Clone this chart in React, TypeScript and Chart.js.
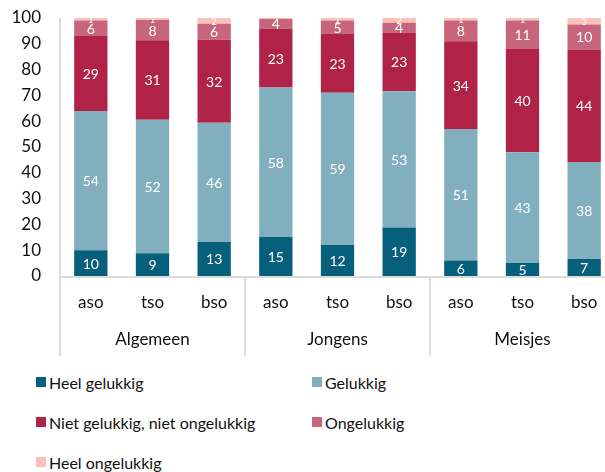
import React, { useEffect, useRef } from "react";
import { Chart, registerables } from "chart.js";

Chart.register(...registerables);

const categories = ["aso", "tso", "bso", "aso", "tso", "bso", "aso", "tso", "bso"];
const groups = ["Algemeen", "Jongens", "Meisjes"];
const seriesNames = [
  "Heel gelukkig",
  "Gelukkig",
  "Niet gelukkig, niet ongelukkig",
  "Ongelukkig",
  "Heel ongelukkig",
];
const heelGelukkig = [10, 8.8, 13.2, 15.1, 12, 18.8, 6, 5, 6.6];
const gelukkig = [54, 51.8, 46.2, 58, 59, 52.8, 51, 43, 37.6];
const nietNiet = [29, 30.8, 32.2, 22.8, 23, 22.8, 34, 40, 43.6];
const ongelukkig = [6, 7.8, 6.2, 3.7, 5, 3.8, 8, 11, 9.7];
const heelOngelukkig = [1, 0.8, 2.2, 0.4, 1, 1.8, 1, 1, 2.5];
const seriesColors = ["#065f7b", "#82afbe", "#b02247", "#c6657c", "#fbc0b7"];
const yTicks = [0, 10, 20, 30, 40, 50, 60, 70, 80, 90, 100];

const FONT = "Lato, 'Noto Sans', sans-serif";

export default function App() {
  const ref = useRef<HTMLCanvasElement | null>(null);

  useEffect(() => {
    if (!ref.current) return;
    const values = [heelGelukkig, gelukkig, nietNiet, ongelukkig, heelOngelukkig];

    const overlay = {
      id: "overlay",
      afterDatasetsDraw(chart: any) {
        const ctx = chart.ctx;
        ctx.save();
        ctx.textAlign = "center";
        ctx.textBaseline = "middle";
        chart.data.datasets.forEach((ds: any, di: number) => {
          const meta = chart.getDatasetMeta(di);
          meta.data.forEach((bar: any, i: number) => {
            const v = Math.round(ds.data[i]);
            if (!v) return;
            const cy = (bar.y + bar.base) / 2;
            ctx.fillStyle = "#ffffff";
            ctx.font = di === 4 ? `9px ${FONT}` : `14px ${FONT}`;
            ctx.fillText(String(v), bar.x, cy + 1);
          });
        });
        ctx.restore();
      },
      afterDraw(chart: any) {
        const ctx = chart.ctx;
        const area = chart.chartArea;
        const xs = chart.scales.x;
        const step = (area.right - area.left) / categories.length;
        const bottomLine = area.bottom + 80;
        ctx.save();
        ctx.strokeStyle = "#dcdcdc";
        ctx.lineWidth = 2;
        ctx.beginPath();
        ctx.moveTo(area.left, area.bottom + 1);
        ctx.lineTo(area.right, area.bottom + 1);
        ctx.stroke();
        ctx.beginPath();
        ctx.moveTo(area.left, area.top);
        ctx.lineTo(area.left, bottomLine);
        ctx.stroke();
        for (let g = 1; g <= groups.length; g++) {
          const x = Math.round(area.left + g * 3 * step);
          ctx.beginPath();
          ctx.moveTo(x, area.bottom);
          ctx.lineTo(x, bottomLine);
          ctx.stroke();
        }
        ctx.fillStyle = "#111111";
        ctx.font = `17px ${FONT}`;
        ctx.textAlign = "center";
        ctx.textBaseline = "middle";
        groups.forEach((g, gi) => {
          const cx = xs.getPixelForValue(gi * 3 + 1);
          ctx.fillText(g, cx, area.bottom + 64);
        });
        ctx.restore();
      },
    };

    const chart = new Chart(ref.current, {
      type: "bar",
      data: {
        labels: categories,
        datasets: values.map((d, i) => ({
          label: seriesNames[i],
          data: d,
          backgroundColor: seriesColors[i],
          borderWidth: 0,
          barPercentage: 0.54,
          categoryPercentage: 1,
        })),
      },
      options: {
        responsive: false,
        animation: false,
        layout: { padding: { top: 18, right: 0, bottom: 0, left: 0 } },
        plugins: { legend: { display: false }, tooltip: { enabled: false } },
        scales: {
          x: {
            stacked: true,
            grid: { display: false, drawTicks: false },
            border: { display: false },
            ticks: {
              color: "#111111",
              font: { family: FONT, size: 17 },
              padding: 16,
              autoSkip: false,
              maxRotation: 0,
            },
            afterFit(scale: any) {
              scale.height = 90;
              scale.paddingLeft = 0;
              scale.paddingRight = 0;
            },
          },
          y: {
            stacked: true,
            min: 0,
            max: 100,
            afterBuildTicks(scale: any) {
              scale.ticks = yTicks.map((v) => ({ value: v }));
            },
            grid: { display: false, drawTicks: false },
            border: { display: false },
            ticks: {
              color: "#111111",
              font: { family: FONT, size: 17 },
              padding: 19,
            },
            afterFit(scale: any) {
              scale.width = 60;
              scale.paddingTop = 0;
              scale.paddingBottom = 0;
            },
          },
        },
      },
      plugins: [overlay],
    });
    return () => chart.destroy();
  }, []);

  const rows = [
    [0, 1],
    [2, 3],
    [4],
  ];

  return (
    <div style={{ position: "relative", width: 605, height: 472, overflow: "hidden" }}>
      <style>{`body{margin:0;overflow:hidden;}`}</style>
      <canvas ref={ref} width={615} height={366} style={{ position: "absolute", left: 0, top: 0 }} />
      {rows.map((row, ri) =>
        row.map((si, ci) => (
          <div
            key={si}
            style={{
              position: "absolute",
              left: ci === 0 ? 36 : 312,
              top: 382 + ri * 40 - 11,
              height: 22,
              display: "flex",
              alignItems: "center",
              fontFamily: FONT,
              fontSize: 16,
              color: "#111111",
              whiteSpace: "nowrap",
            }}
          >
            <span
              style={{
                display: "inline-block",
                width: 10,
                height: 10,
                background: seriesColors[si],
                marginRight: 3,
              }}
            />
            <span>{seriesNames[si]}</span>
          </div>
        ))
      )}
    </div>
  );
}
